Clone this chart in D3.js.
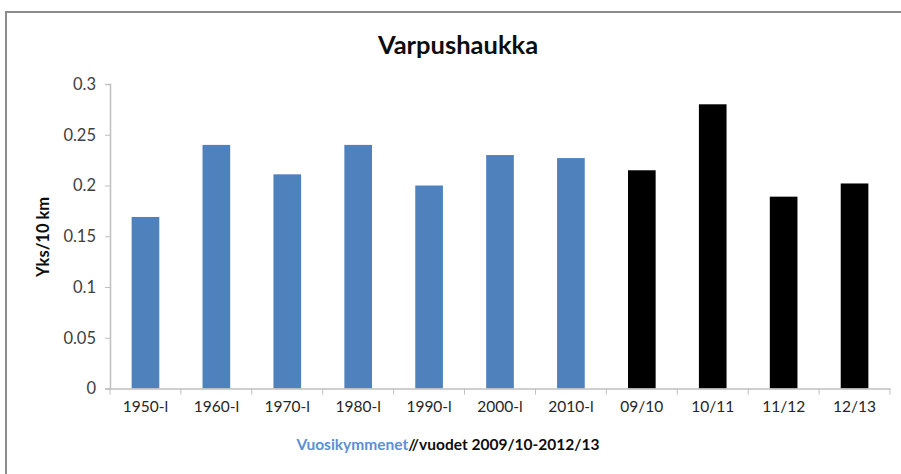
<!DOCTYPE html>
<html>
<head>
<meta charset="utf-8">
<script src="https://cdn.jsdelivr.net/npm/d3@7"></script>
<style>
  body { margin: 0; background: #fff; }
  svg { display: block; font-family: Lato, "Open Sans", sans-serif; }
</style>
</head>
<body>
<svg id="chart" width="901" height="474"></svg>
<script>
// categories: decades (blue) and winters 2009/10-2012/13 (black)
var categories = ["1950-l", "1960-l", "1970-l", "1980-l", "1990-l", "2000-l", "2010-l",
                  "09/10", "10/11", "11/12", "12/13"];
var values = [0.169, 0.240, 0.211, 0.240, 0.200, 0.230, 0.227,
              0.215, 0.280, 0.189, 0.202];
var isDecade = [true, true, true, true, true, true, true, false, false, false, false];
var yTicks = [0, 0.05, 0.1, 0.15, 0.2, 0.25, 0.3];
var yTickLabels = ["0", "0.05", "0.1", "0.15", "0.2", "0.25", "0.3"];

var svg = d3.select("#chart");
var plotLeft = 110, plotRight = 890, plotTop = 84, plotBottom = 388.5;
var font = "Lato, 'Open Sans', sans-serif";

// outer frame (only top and left edges show)
svg.append("path")
  .attr("d", "M6,474 V12 H901")
  .attr("fill", "none")
  .attr("stroke", "#8c8c8c")
  .attr("stroke-width", 2);

var x = d3.scaleBand()
  .domain(categories)
  .range([plotLeft, plotRight])
  .paddingInner(0.61)
  .paddingOuter(0.305);

var y = d3.scaleLinear()
  .domain([0, 0.3])
  .range([plotBottom, plotTop]);

// y axis
var yAxis = svg.append("g")
  .attr("transform", "translate(" + plotLeft + ",0)")
  .call(d3.axisLeft(y).tickValues(yTicks)
    .tickFormat(function(d, i) { return yTickLabels[i]; })
    .tickSize(5).tickPadding(9));
yAxis.attr("font-family", font);
yAxis.select(".domain").attr("stroke", "#bfbfbf").attr("stroke-width", 1.5);
yAxis.selectAll(".tick line").attr("stroke", "#bfbfbf");
yAxis.selectAll("text").attr("fill", "#404040").style("font-size", "16.5px");

// bars
svg.append("g").selectAll("rect")
  .data(categories)
  .enter().append("rect")
  .attr("x", function(d) { return x(d); })
  .attr("width", x.bandwidth())
  .attr("y", function(d, i) { return y(values[i]); })
  .attr("height", function(d, i) { return y(0) - y(values[i]); })
  .attr("fill", function(d, i) { return isDecade[i] ? "#4f81bd" : "#000000"; });

// x axis: labels at centers, ticks at band boundaries
var xAxis = svg.append("g")
  .attr("transform", "translate(0," + plotBottom + ")")
  .call(d3.axisBottom(x).tickSize(0).tickPadding(12).tickSizeOuter(0));
xAxis.attr("font-family", font);
xAxis.select(".domain").attr("stroke", "#bfbfbf").attr("stroke-width", 1.5);
xAxis.selectAll("text").attr("fill", "#262626").style("font-size", "15.5px");

var step = x.step();
var bounds = d3.range(categories.length + 1).map(function(i) { return plotLeft + i * step; });
xAxis.selectAll(".bound")
  .data(bounds)
  .enter().append("line")
  .attr("class", "bound")
  .attr("x1", function(d) { return d; })
  .attr("x2", function(d) { return d; })
  .attr("y1", 0)
  .attr("y2", 6)
  .attr("stroke", "#bfbfbf");

// title
svg.append("text")
  .attr("x", 458)
  .attr("y", 54)
  .attr("text-anchor", "middle")
  .attr("font-weight", "bold")
  .style("font-size", "25.5px")
  .attr("fill", "#0d0d0d")
  .text("Varpushaukka");

// y axis title
svg.append("text")
  .attr("transform", "translate(49,237) rotate(-90)")
  .attr("text-anchor", "middle")
  .attr("font-weight", "bold")
  .style("font-size", "16.5px")
  .attr("fill", "#0d0d0d")
  .text("Yks/10 km");

// x axis title
var xt = svg.append("text")
  .attr("x", 448)
  .attr("y", 450)
  .attr("text-anchor", "middle")
  .attr("font-weight", "bold")
  .style("font-size", "15.5px");
xt.append("tspan").attr("fill", "#5b8fd6").text("Vuosikymmenet");
xt.append("tspan").attr("fill", "#0d0d0d").text("//vuodet 2009/10-2012/13");
</script>
</body>
</html>
